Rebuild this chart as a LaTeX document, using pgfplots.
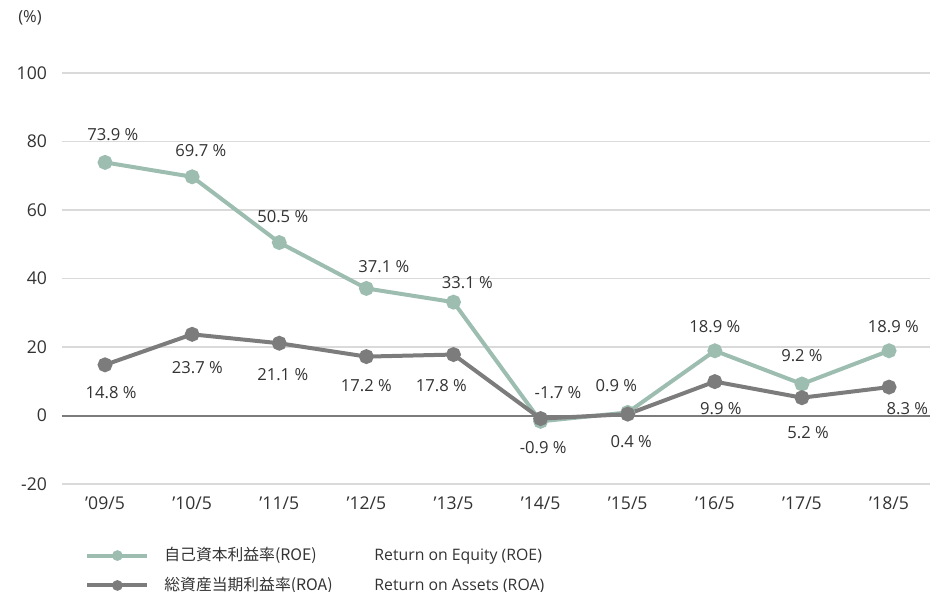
\documentclass[border=0pt]{standalone}
\usepackage{pgfplots}
\pgfplotsset{compat=1.18}
\usepackage{fontspec}
\setmainfont{Open Sans}
\newfontfamily\cjk{Noto Sans CJK JP}
\definecolor{roe}{HTML}{9DBDB1}
\definecolor{roa}{HTML}{7C7C7C}
\definecolor{gridc}{HTML}{DADADA}
\definecolor{txt}{HTML}{333333}

\begin{document}
\begin{tikzpicture}[font=\fontsize{8.3}{10}\selectfont, text=txt]
\useasboundingbox (-31pt,-53.5pt) rectangle (434pt,242pt);
\begin{axis}[
    scale only axis,
    width=434pt, height=205.5pt,
    xmin=-0.494, xmax=9.47,
    ymin=-20, ymax=100,
    axis line style={draw=none},
    xtick={0,...,9},
    xticklabels={’09/5,’10/5,’11/5,’12/5,’13/5,’14/5,’15/5,’16/5,’17/5,’18/5},
    ytick={-20,0,...,100},
    major tick length=0pt,
    ymajorgrids,
    grid style={gridc, line width=0.8pt},
    tick label style={font=\fontsize{8.8}{10}\selectfont},
    xticklabel style={yshift=-3pt, text=txt},
    yticklabel style={xshift=-4pt, text=txt},
    /pgf/number format/assume math mode=true,
    clip=false,
    legend style={draw=none, fill=none, at={(0,0)}, anchor=north west,
        xshift=11.5pt, yshift=-29.5pt, inner sep=0pt, row sep=2.8pt,
        font=\fontsize{7.9}{9}\selectfont, text=txt},
    legend cell align=left,
    legend image code/.code={
        \draw[#1, mark=none] (0pt,0pt) -- (30pt,0pt);
        \fill[#1, draw=none] (15pt,0pt) circle (2.7pt);
    },
]
\draw[roa, line width=1pt] (axis cs:-0.494,0) -- (axis cs:9.47,0);

\addplot[roe, line width=2pt, mark=*, mark size=2.7pt, mark options={fill=roe, draw=roe}]
  coordinates {(0,73.9) (1,69.7) (2,50.5) (3,37.1) (4,33.1) (5,-1.7) (6,0.9) (7,18.9) (8,9.2) (9,18.9)};
\addlegendentry{\hspace{5.5pt}\makebox[105pt][l]{\cjk 自己資本利益率(ROE)}Return on Equity (ROE)}

\addplot[roa, line width=2pt, mark=*, mark size=2.7pt, mark options={fill=roa, draw=roa}]
  coordinates {(0,14.8) (1,23.7) (2,21.1) (3,17.2) (4,17.8) (5,-0.9) (6,0.4) (7,9.9) (8,5.2) (9,8.3)};
\addlegendentry{\hspace{5.5pt}\makebox[105pt][l]{\cjk 総資産当期利益率(ROA)}Return on Assets (ROA)}

% ROE labels
\node at (axis cs:0.09,81.9) {73.9 \%};
\node at (axis cs:1.10,77.2) {69.7 \%};
\node at (axis cs:2.04,58.2) {50.5 \%};
\node at (axis cs:3.20,43.6) {37.1 \%};
\node at (axis cs:4.16,38.7) {33.1 \%};
\node at (axis cs:5.20,6.6) {-1.7 \%};
\node at (axis cs:5.87,8.6) {0.9 \%};
\node at (axis cs:7.00,26.1) {18.9 \%};
\node at (axis cs:8.00,17.4) {9.2 \%};
\node at (axis cs:9.05,26.1) {18.9 \%};
% ROA labels
\node at (axis cs:0.07,6.6) {14.8 \%};
\node at (axis cs:1.06,13.9) {23.7 \%};
\node at (axis cs:2.04,11.8) {21.1 \%};
\node at (axis cs:3.00,8.6) {17.2 \%};
\node at (axis cs:3.86,8.6) {17.8 \%};
\node at (axis cs:5.03,-9.5) {-0.9 \%};
\node at (axis cs:6.04,-7.7) {0.4 \%};
\node at (axis cs:7.07,1.9) {9.9 \%};
\node at (axis cs:8.07,-5.1) {5.2 \%};
\node at (axis cs:9.21,1.9) {8.3 \%};
\end{axis}
\node at (-16pt,233pt) {(\%)};
\end{tikzpicture}
\end{document}
